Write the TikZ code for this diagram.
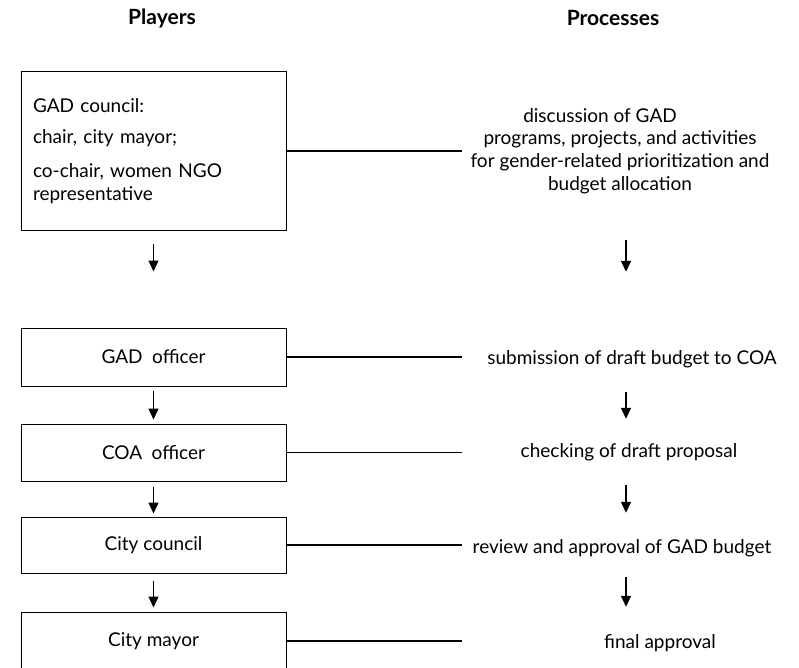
\documentclass[tikz,border=0pt]{standalone}
\usepackage{fontspec}
\setmainfont{Lato}
\usetikzlibrary{positioning}
\usetikzlibrary{arrows.meta}

\begin{document}
\begin{tikzpicture}[x=1pt, y=-1pt,
    P/.style={draw, line width=1pt, minimum width=265pt, inner sep=0pt, align=center, font=\fontsize{19}{23}\selectfont},
    Q/.style={inner sep=0pt, align=center, font=\fontsize{19}{22.7}\selectfont},
    H/.style={font=\bfseries\fontsize{21}{24}\selectfont},
    F/.style={line width=1.4pt, -{Triangle[length=11pt,width=10pt]}}]
    \useasboundingbox (0,0) rectangle (799,668);
    \coordinate (rail) at (462,0);
    \coordinate (rcol) at (626,0);

    \node[H] (hp) at (162,18) {Players};
    \node[H] (hq) at (613,18) {Processes};

    \node[P, minimum height=158pt, text width=241pt, align=left] (gadc) at (153.5,151) {GAD council:\\[8pt] chair, city mayor;\\[11pt] co-chair, women NGO\\ representative};
    \node[P, minimum height=58pt] (gado) at (153.5,357) {GAD\enspace officer};
    \node[P, minimum height=57pt] (coa) at (153.5,452.5) {COA\enspace officer};
    \node[P, minimum height=56pt] (ccl) at (153.5,545) {City council};
    \node[P, minimum height=58pt] (cmy) at (153.5,641) {City mayor};

    \node[Q, minimum height=158pt] (pdisc) at (620,151) {discussion of GAD\hspace*{40pt}\\ programs, projects, and activities\\ for gender-related prioritization and\\ budget allocation};
    \node[Q, minimum height=58pt] (psub) at (632,359) {submission of draft budget to COA};
    \node[Q, minimum height=57pt] (pchk) at (629,452) {checking of draft proposal};
    \node[Q, minimum height=56pt] (prev) at (622,548) {review and approval of GAD budget};
    \node[Q, minimum height=56pt] (pfin) at (660,643) {final approval};

    \draw[line width=1.2pt] (gadc.east) -- (gadc.east -| rail);
    \draw[line width=1.2pt] (gado.east) -- (gado.east -| rail);
    \draw[line width=1.2pt] (coa.east) -- (coa.east -| rail);
    \draw[line width=1.2pt] (ccl.east) -- (ccl.east -| rail);
    \draw[line width=1.2pt] (cmy.east) -- (cmy.east -| rail);

    \draw[F, shorten <=13pt, shorten >=56pt] (gadc) -- (gado);
    \draw[F, shorten <=4pt, shorten >=4pt] (gado) -- (coa);
    \draw[F, shorten <=5pt, shorten >=3pt] (coa) -- (ccl);
    \draw[F, shorten <=7pt, shorten >=4pt] (ccl) -- (cmy);

    \draw[F, shorten <=10pt, shorten >=58pt] (pdisc.south -| rcol) -- (psub.north -| rcol);
    \draw[F, shorten <=4pt, shorten >=4.5pt] (psub.south -| rcol) -- (pchk.north -| rcol);
    \draw[F, shorten <=4.5pt, shorten >=7pt] (pchk.south -| rcol) -- (prev.north -| rcol);
    \draw[F, shorten <=1pt, shorten >=8pt] (prev.south -| rcol) -- (pfin.north -| rcol);
\end{tikzpicture}
\end{document}
